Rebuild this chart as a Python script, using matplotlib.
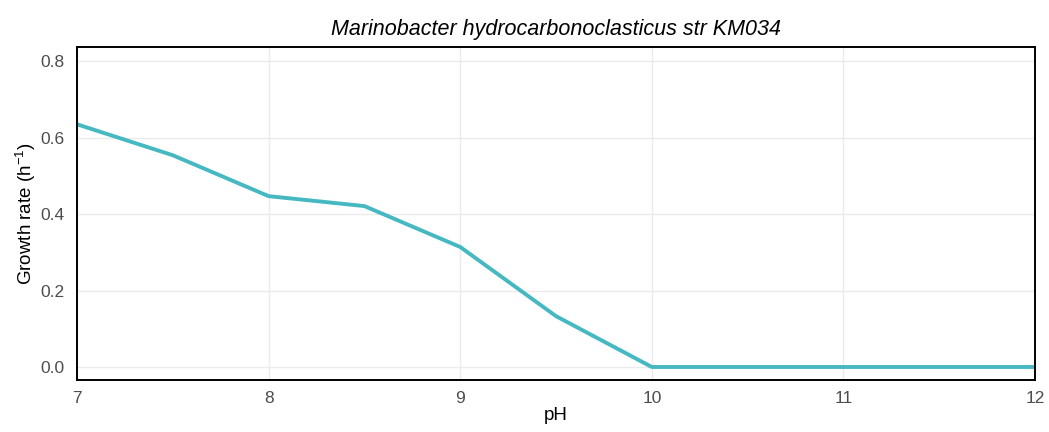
import matplotlib
matplotlib.use("Agg")
import matplotlib.pyplot as plt

plt.rcParams['font.family'] = ['Liberation Sans', 'DejaVu Sans']
plt.rcParams['mathtext.default'] = 'regular'

ph = [7, 7.5, 8, 8.5, 9, 9.5, 10, 10.5, 11, 11.5, 12]
growth = [0.635, 0.554, 0.447, 0.421, 0.314, 0.133, 0.0, 0.0, 0.0, 0.0, 0.0]

fig = plt.figure(figsize=(10.49, 4.32), dpi=100)
ax = fig.add_axes([0.0734, 0.1204, 0.9133, 0.7706])

ax.plot(ph, growth, color='#45B8C2', lw=2.8, solid_capstyle='butt')

ax.set_xlim(7, 12)
ax.set_ylim(-0.034, 0.837)
ax.set_xticks([7, 8, 9, 10, 11, 12])
ax.set_yticks([0.0, 0.2, 0.4, 0.6, 0.8])
ax.set_yticklabels(['0.0', '0.2', '0.4', '0.6', '0.8'])

ax.grid(True, color='#EBEBEB', lw=1.0)
ax.set_axisbelow(True)
for s in ax.spines.values():
    s.set_color('black')
    s.set_linewidth(1.4)

ax.tick_params(axis='y', length=0, pad=9, labelsize=12.5, labelcolor='#4D4D4D')
ax.tick_params(axis='x', length=0, pad=8, labelsize=12.5, labelcolor='#4D4D4D')
ax.set_xlabel('pH', fontsize=13.5, labelpad=1)
ax.set_ylabel('Growth rate (h$^{-1}$)', fontsize=13.5, labelpad=2)
ax.set_title('Marinobacter hydrocarbonoclasticus str KM034', fontsize=15.5,
             style='italic', pad=9)

fig.savefig('out.png', dpi=100)
